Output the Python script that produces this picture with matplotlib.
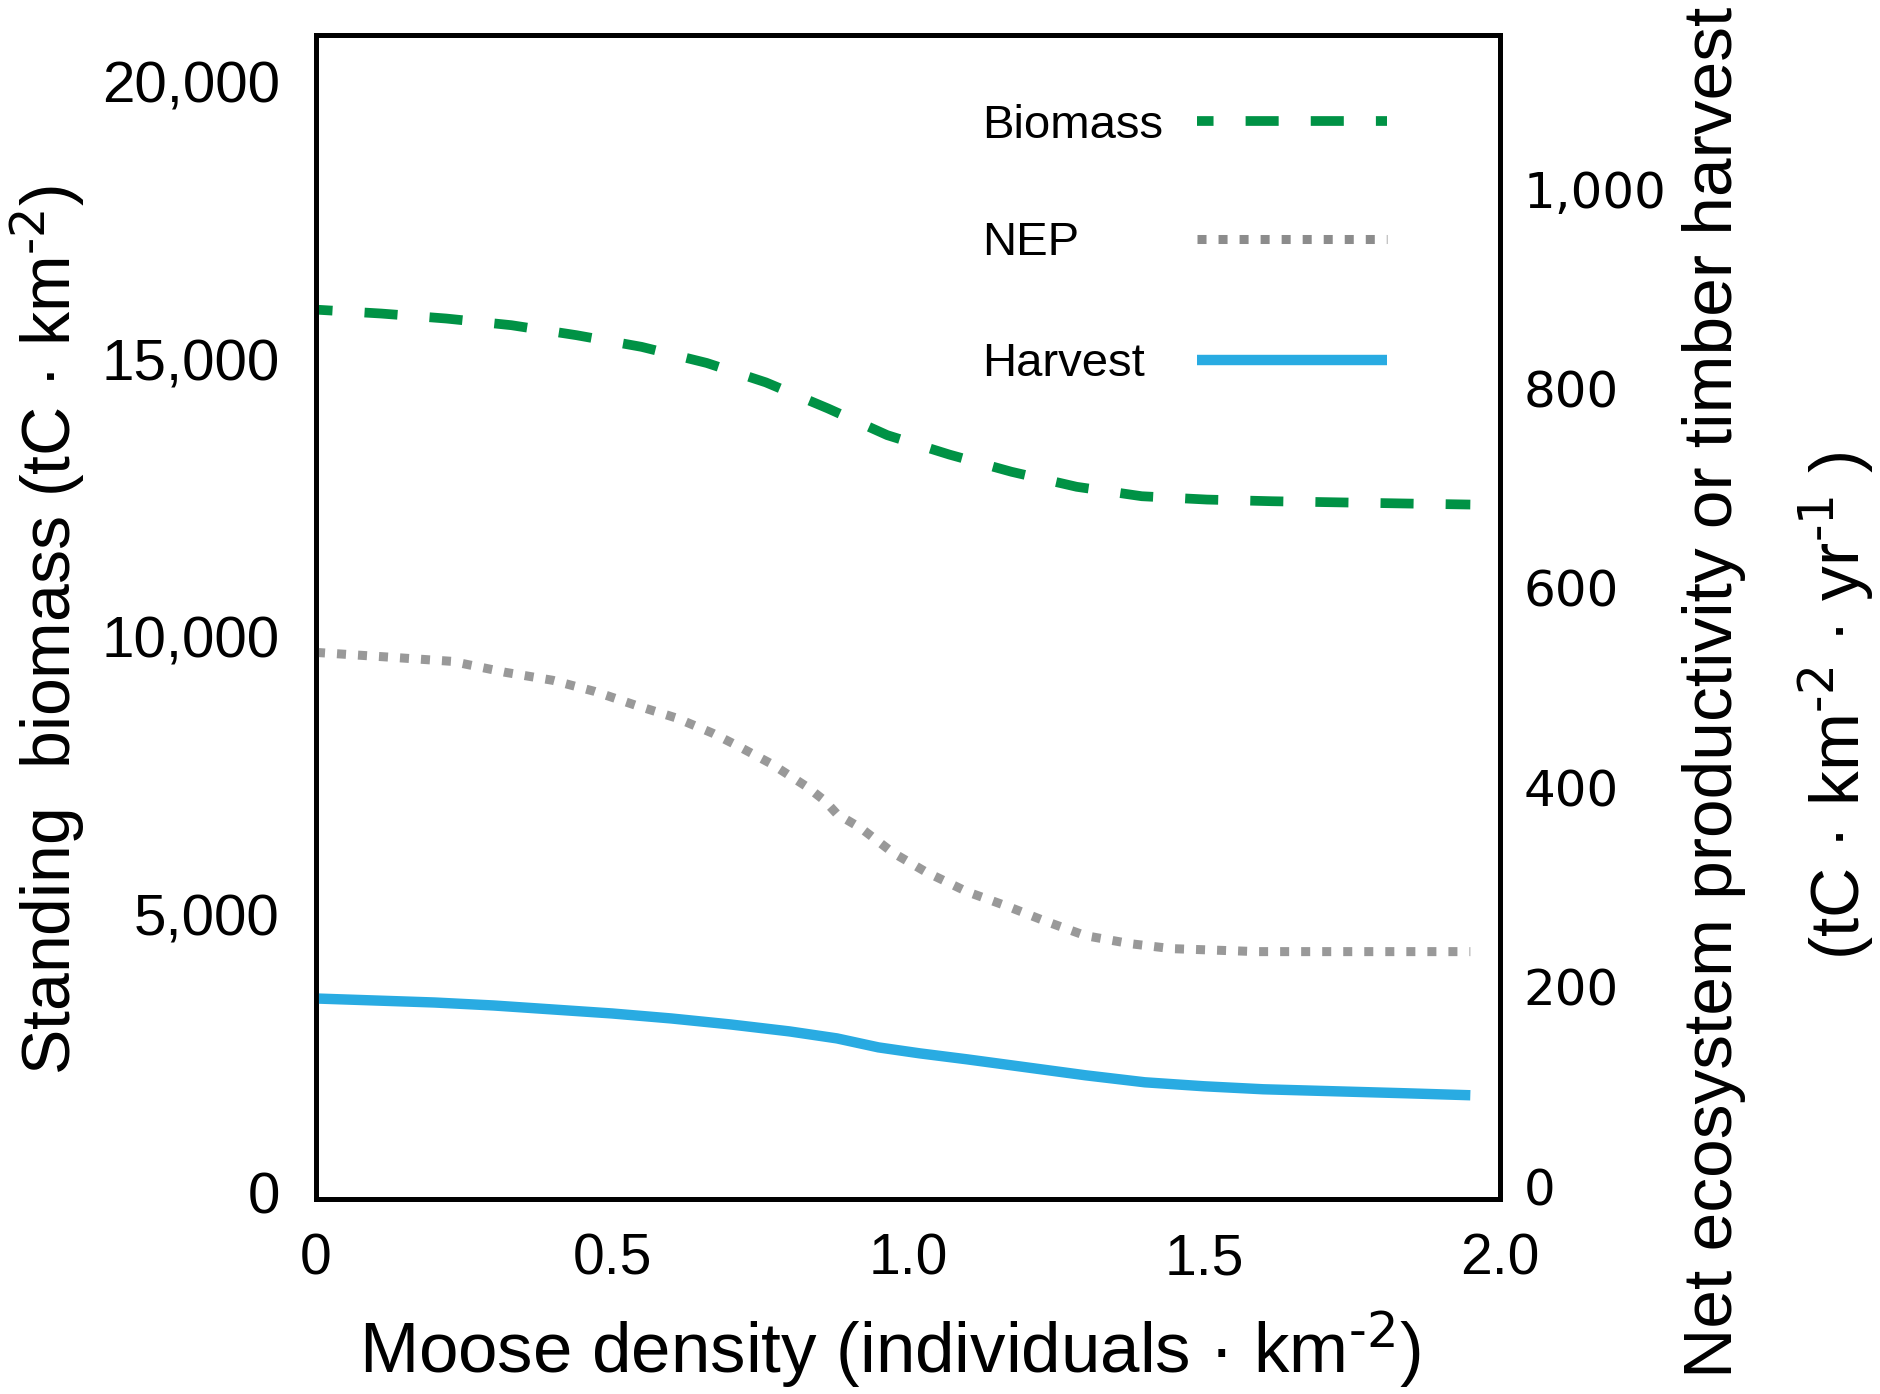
import matplotlib.pyplot as plt

plt.rcParams['font.family'] = ['Liberation Sans', 'DejaVu Sans']
plt.rcParams['mathtext.default'] = 'regular'

# Biomass (left axis, tC/km2)
biomass_x = [0, 0.11, 0.22, 0.33, 0.44, 0.55, 0.66, 0.76, 0.865, 0.965, 1.07,
             1.175, 1.285, 1.395, 1.505, 1.615, 1.725, 1.835, 1.95]
biomass_y = [15890, 15820, 15730, 15610, 15430, 15220, 14930, 14580, 14110,
             13630, 13280, 12970, 12700, 12530, 12470, 12440, 12420, 12400, 12380]

# NEP (right axis)
nep_x = [0, 0.13, 0.23, 0.32, 0.40, 0.47, 0.54, 0.61, 0.67, 0.71, 0.77, 0.83,
         0.86, 0.88, 0.92, 0.975, 1.03, 1.10, 1.17, 1.23, 1.30, 1.375, 1.445,
         1.59, 1.78, 1.95]
nep_y = [535, 530, 526, 515, 507, 496, 482, 469, 454, 442, 423, 400, 386, 373,
         359, 334, 315, 295, 280, 266, 251, 243, 238, 235, 235, 235]

# timber harvest (right axis)
harvest_x = [0, 0.1, 0.2, 0.3, 0.4, 0.5, 0.6, 0.7, 0.8, 0.88, 0.95, 1.02, 1.1,
             1.2, 1.3, 1.4, 1.5, 1.6, 1.72, 1.84, 1.95]
harvest_y = [188, 186, 184, 181, 177, 173, 168, 162, 155, 148, 139, 133, 127,
             119, 111, 104, 100, 97, 95, 93, 91]

x_ticks = [0, 0.5, 1.0, 1.5, 2.0]
x_tick_labels = ['0', '0.5', '1.0', '1.5', '2.0']
left_ticks = [0, 5000, 10000, 15000, 20000]
left_tick_labels = ['0', '5,000', '10,000', '15,000', '20,000']
right_ticks = [0, 200, 400, 600, 800, 1000]
right_tick_labels = ['0', '200', '400', '600', '800', '1,000']

green = '#009245'
grey = '#999999'
blue = '#29abe2'

fig = plt.figure(figsize=(18.81, 13.94), dpi=100)
ax = fig.add_axes([0.168, 0.1399, 0.6294, 0.835])
ax2 = ax.twinx()

biomass_style = (1.7, (3.4, 3.3))
nep_style = (0, (1.0, 1.33))

ax.plot(biomass_x, biomass_y, color=green, lw=7, linestyle=biomass_style,
        dash_capstyle='butt')
ax2.plot(nep_x, nep_y, color=grey, lw=6.5, linestyle=nep_style,
         dash_capstyle='butt')
ax2.plot(harvest_x, harvest_y, color=blue, lw=7.5, solid_capstyle='butt')

ax.set_xlim(0, 2.0)
ax.set_ylim(-125, 20836)
ax2.set_ylim(-13, 1154)

ax.set_xticks(x_ticks)
ax.set_xticklabels(x_tick_labels, fontsize=41)
ax.set_yticks(left_ticks)
ax.set_yticklabels(left_tick_labels, fontsize=42)
ax2.set_yticks(right_ticks)
ax2.set_yticklabels(right_tick_labels, fontsize=36, family='DejaVu Sans')

ax.tick_params(axis='x', length=0, pad=24)
ax.tick_params(axis='y', length=0, pad=26)
ax2.tick_params(axis='y', length=0, pad=17)

for a in (ax, ax2):
    for s in a.spines.values():
        s.set_linewidth(3.5)
        s.set_color('black')

sup2 = r'$^{\text{-2}}$'
sup1 = r'$^{\text{-1}}$'
ax.text(0.485, -0.129, 'Moose density (individuals · km' + sup2 + ')', fontsize=51,
        ha='center', va='center', transform=ax.transAxes)
ax.text(-0.2264, 0.489, 'Standing  biomass (tC · km' + sup2 + ')', fontsize=49,
        rotation=90, ha='center', va='center', transform=ax.transAxes)
ax.text(1.181, 0.435, 'Net ecosystem productivity or timber harvest', fontsize=50,
        rotation=90, ha='center', va='center', transform=ax.transAxes)
ax.text(1.284, 0.424, '(tC · km' + sup2 + ' · yr' + sup1 + ' )', fontsize=50,
        rotation=90, ha='center', va='center', transform=ax.transAxes)

# legend, text on the left and sample line on the right
legend_names = ['Biomass', 'NEP', 'Harvest']
legend_rows = [0.926, 0.825, 0.721]
legend_styles = [
    dict(color=green, lw=7, linestyle=biomass_style, dash_capstyle='butt'),
    dict(color='#8c8c8c', lw=6.5, linestyle=nep_style, dash_capstyle='butt'),
    dict(color=blue, lw=7.5, solid_capstyle='butt'),
]
for name, row, style in zip(legend_names, legend_rows, legend_styles):
    ax.text(0.5625, row - 0.004, name, fontsize=34, ha='left', va='center',
            transform=ax.transAxes)
    ax.plot([0.744, 0.905], [row, row], transform=ax.transAxes, clip_on=False,
            **style)

fig.savefig('out.png', dpi=100)
